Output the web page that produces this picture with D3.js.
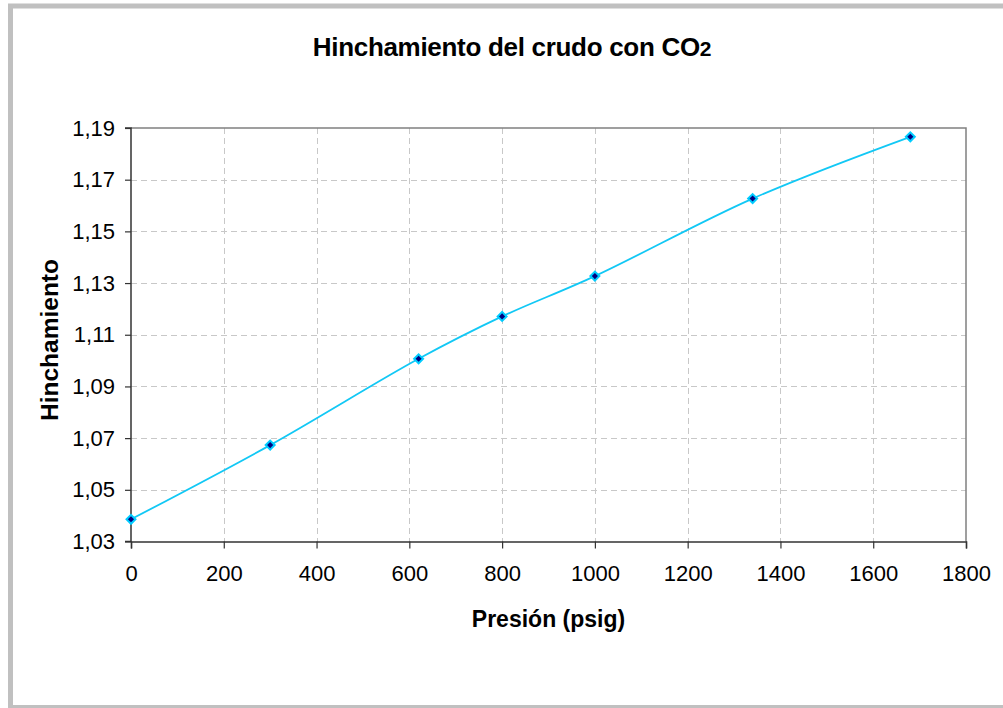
<!DOCTYPE html>
<html>
<head>
<meta charset="utf-8">
<script src="https://cdn.jsdelivr.net/npm/d3@7"></script>
<style>
  html, body { margin: 0; padding: 0; background: #fff; }
  svg { display: block; }
  text { font-family: "Liberation Sans", Arial, sans-serif; fill: #000; }
</style>
</head>
<body>
<svg id="chart" width="1003" height="708"></svg>
<script>
const presion = [0, 300, 620, 800, 1000, 1340, 1680];
const hinchamiento = [1.0386, 1.0673, 1.1007, 1.1171, 1.1327, 1.1627, 1.1866];
const xTicks = [0, 200, 400, 600, 800, 1000, 1200, 1400, 1600, 1800];
const yTicks = [1.03, 1.05, 1.07, 1.09, 1.11, 1.13, 1.15, 1.17, 1.19];
const titleText = "Hinchamiento del crudo con CO";
const titleSub = "2";
const xTitle = "Presión (psig)";
const yTitle = "Hinchamiento";

const svg = d3.select("#chart");
const plot = { left: 131, top: 128, right: 966, bottom: 541.5 };

// outer chart-area frame
svg.append("rect")
  .attr("x", 10.5).attr("y", 6)
  .attr("width", 1010).attr("height", 701.5)
  .attr("fill", "#fff")
  .attr("stroke", "#c0c0c0").attr("stroke-width", 5);

const x = d3.scaleLinear().domain([0, 1800]).range([plot.left, plot.right]);
const y = d3.scaleLinear().domain([1.03, 1.19]).range([plot.bottom, plot.top]);

// gridlines
const grid = svg.append("g");
grid.selectAll("line.v").data(xTicks.filter(d => d > 0 && d < 1800)).enter()
  .append("line")
  .attr("x1", d => Math.round(x(d)) + 0.5).attr("x2", d => Math.round(x(d)) + 0.5)
  .attr("y1", plot.top).attr("y2", plot.bottom)
  .attr("stroke", "#c8c8c8").attr("stroke-width", 1).attr("stroke-dasharray", "6,4");
grid.selectAll("line.h").data(yTicks.filter(d => d > 1.031 && d < 1.189)).enter()
  .append("line")
  .attr("x1", plot.left).attr("x2", plot.right)
  .attr("y1", d => Math.round(y(d)) + 0.5).attr("y2", d => Math.round(y(d)) + 0.5)
  .attr("stroke", "#c8c8c8").attr("stroke-width", 1).attr("stroke-dasharray", "6,4");

// top & right border
svg.append("path")
  .attr("d", `M${plot.left},${plot.top}H${plot.right}V${plot.bottom}`)
  .attr("fill", "none").attr("stroke", "#808080").attr("stroke-width", 1.5);

// axes
const fmt = d3.formatLocale({ decimal: ",", thousands: ".", grouping: [3], currency: ["", ""] });
const yAxis = d3.axisLeft(y).tickValues(yTicks).tickSize(6).tickPadding(10)
  .tickFormat(fmt.format(".2f"));
const xAxis = d3.axisBottom(x).tickValues(xTicks).tickSize(7).tickPadding(17)
  .tickFormat(d3.format("d"));

const gy = svg.append("g").attr("transform", `translate(${plot.left},0)`).call(yAxis);
const gx = svg.append("g").attr("transform", `translate(0,${plot.bottom})`).call(xAxis);
[gx, gy].forEach(g => {
  g.select(".domain").attr("stroke", "#333").attr("stroke-width", 1.5);
  g.selectAll(".tick line").attr("stroke", "#333").attr("stroke-width", 1.2);
  g.selectAll(".tick text").attr("font-size", 22)
    .attr("font-family", '"Liberation Sans", Arial, sans-serif').attr("fill", "#000");
});
gy.select(".domain").attr("d", `M-6,${plot.top}H0V${plot.bottom}H-6`);

// line
const pts = presion.map((p, i) => [p, hinchamiento[i]]);
const line = d3.line().x(d => x(d[0])).y(d => y(d[1])).curve(d3.curveCatmullRom.alpha(0.5));
svg.append("path").datum(pts)
  .attr("d", line).attr("fill", "none")
  .attr("stroke", "#12c8f5").attr("stroke-width", 1.8);

// markers (diamonds)
const sym = d3.symbol().type(d3.symbolSquare).size(40);
svg.append("g").selectAll("path").data(pts).enter()
  .append("path")
  .attr("d", sym)
  .attr("transform", d => `translate(${x(d[0])},${y(d[1])}) rotate(45)`)
  .attr("fill", "#000080").attr("stroke", "#00ccff").attr("stroke-width", 2);

// title
const t = svg.append("text")
  .attr("x", 512).attr("y", 56)
  .attr("text-anchor", "middle")
  .attr("font-size", 26).attr("font-weight", "bold")
  .attr("letter-spacing", -0.3);
t.append("tspan").text(titleText);
t.append("tspan").attr("font-size", 21).text(titleSub);

// axis titles
svg.append("text")
  .attr("x", (plot.left + plot.right) / 2).attr("y", 627)
  .attr("text-anchor", "middle")
  .attr("font-size", 23).attr("font-weight", "bold")
  .text(xTitle);

svg.append("text")
  .attr("transform", `translate(58,${(258 + 422) / 2}) rotate(-90)`)
  .attr("text-anchor", "middle")
  .attr("font-size", 24.5).attr("font-weight", "bold")
  .text(yTitle);
</script>
</body>
</html>
